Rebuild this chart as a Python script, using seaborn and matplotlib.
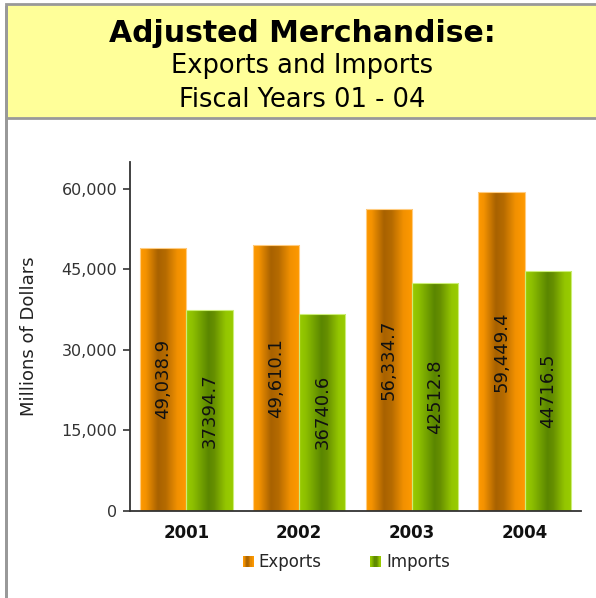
import numpy as np
import pandas as pd
import matplotlib
matplotlib.use("Agg")
import matplotlib.pyplot as plt
from matplotlib.patches import Rectangle
from matplotlib.colors import LinearSegmentedColormap
from matplotlib.legend_handler import HandlerBase
import seaborn as sns

years = ["2001", "2002", "2003", "2004"]
exports = [49038.9, 49610.1, 56334.7, 59449.4]
imports = [37394.7, 36740.6, 42512.8, 44716.5]
series = ["Exports", "Imports"]
yticks = [0, 15000, 30000, 45000, 60000]

df = pd.DataFrame({
    "Year": years * 2,
    "Value": exports + imports,
    "Series": ["Exports"] * len(years) + ["Imports"] * len(years),
})

sns.set_theme(style="white")
plt.rcParams["font.family"] = ["DejaVu Sans"]

# light edge -> dark band -> light edge, horizontally across each bar
grad = {
    "Exports": LinearSegmentedColormap.from_list(
        "exp", [(0, "#FF9A00"), (0.12, "#F49200"), (0.38, "#A86200"),
                (0.55, "#B66B00"), (0.8, "#F29100"), (1, "#FF9A00")]),
    "Imports": LinearSegmentedColormap.from_list(
        "imp", [(0, "#99CC00"), (0.15, "#8CBE00"), (0.48, "#5A8600"),
                (0.6, "#668F00"), (0.85, "#94C600"), (1, "#99CC00")]),
}
edge = {"Exports": "#FFCC80", "Imports": "#CCEE77"}
base = {"Exports": "#FF9900", "Imports": "#99CC00"}

fig = plt.figure(figsize=(5.96, 5.98), dpi=100)
fig.patch.set_facecolor("white")

# header band and frame
fig.patches.append(Rectangle((6 / 596, 1 - 118 / 598), 0.995, 114 / 598,
                             transform=fig.transFigure, facecolor="#FFFF99",
                             edgecolor="#999999", linewidth=2, zorder=0))
fig.patches.append(Rectangle((6 / 596, -0.01), 0.0, 1.0, transform=fig.transFigure,
                             facecolor="none", edgecolor="#999999", linewidth=2, zorder=0))

fig.text(302 / 596, 1 - 33 / 598, "Adjusted Merchandise:", ha="center", va="center",
         fontsize=21.5, fontweight="bold", color="black")
fig.text(302 / 596, 1 - 66 / 598, "Exports and Imports", ha="center", va="center",
         fontsize=18.5, color="black")
fig.text(302 / 596, 1 - 100 / 598, "Fiscal Years 01 - 04", ha="center", va="center",
         fontsize=18.5, color="black")

ax = fig.add_axes([130 / 596, 1 - 511 / 598, 451 / 596, 349 / 598])
sns.barplot(data=df, x="Year", y="Value", hue="Series", hue_order=series,
            palette=base, width=0.82, ax=ax, legend=False, saturation=1)

ax.set_ylim(0, 65000)
ax.set_xlim(-0.5, 3.5)

for cont, name in zip(ax.containers, series):
    vals = exports if name == "Exports" else imports
    for bar, v in zip(cont, vals):
        x0, w = bar.get_x(), bar.get_width()
        h = bar.get_height()
        img = ax.imshow(np.linspace(0, 1, 128)[None, :], cmap=grad[name], aspect="auto",
                        extent=[x0, x0 + w, 0, h], interpolation="bilinear", zorder=1)
        img.set_clip_path(bar)
        bar.set_facecolor("none")
        bar.set_edgecolor(edge[name])
        bar.set_linewidth(0.8)
        bar.set_zorder(2)
        txt = f"{v:,.1f}" if name == "Exports" else f"{v:.1f}"
        ax.text(x0 + w / 2, h / 2, txt, rotation=90, ha="center", va="center",
                fontsize=13, color="#111111", zorder=3)

ax.set_xlim(-0.5, 3.5)
ax.set_ylim(0, 65000)
ax.set_yticks(yticks)
ax.set_yticklabels([f"{t:,}" for t in yticks], fontsize=11.5, color="#333333")
ax.set_xticks(range(len(years)))
ax.set_xticklabels(years, fontsize=12, fontweight="bold", color="#111111")
ax.set_xticks([i - 0.5 for i in range(len(years) + 1)], minor=True)
ax.tick_params(axis="x", which="major", length=0, pad=9)
ax.tick_params(axis="x", which="minor", length=5, width=1.2, color="#333333", direction="out")
ax.tick_params(axis="y", length=5, width=1.2, color="#333333", direction="out", left=True, pad=4)
ax.set_xlabel("")
ax.set_ylabel("Millions of Dollars", fontsize=13, color="#222222")
ax.yaxis.set_label_coords((38 - 130) / 451, 0.5)
sns.despine(ax=ax)
for s in ("left", "bottom"):
    ax.spines[s].set_color("#333333")
    ax.spines[s].set_linewidth(1.3)
ax.set_facecolor("none")


class GradientSwatch(HandlerBase):
    def __init__(self, cmap):
        super().__init__()
        self.cmap = cmap

    def create_artists(self, legend, orig_handle, xdescent, ydescent, width, height,
                       fontsize, trans):
        n = 10
        side = height * 0.95
        x0 = width - side
        arts = []
        for i in range(n):
            r = Rectangle((x0 + i * side / n - xdescent, -ydescent + 0.02 * height),
                          side / n + 0.3, side, facecolor=self.cmap((i + 0.5) / n),
                          edgecolor="none", transform=trans)
            arts.append(r)
        return arts


handles = [Rectangle((0, 0), 1, 1, label=s) for s in series]
fig.legend(handles=handles, labels=series, loc="center",
           bbox_to_anchor=(346 / 596, 1 - 562 / 598), ncol=2, frameon=False,
           fontsize=12, handlelength=0.7, handletextpad=0.3, columnspacing=2.85,
           handler_map={handles[0]: GradientSwatch(grad["Exports"]),
                        handles[1]: GradientSwatch(grad["Imports"])})

fig.savefig("out.png", dpi=100)
